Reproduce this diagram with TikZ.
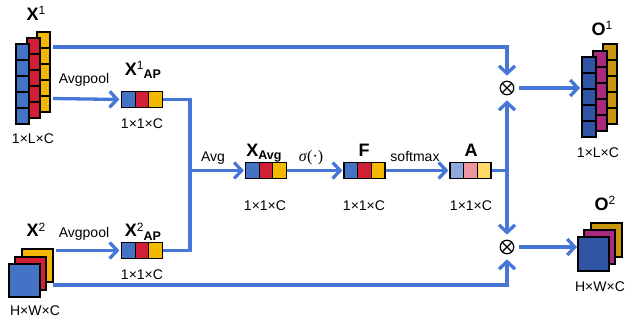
\documentclass[tikz,border=0pt]{standalone}
\usepackage{fontspec}
\setmainfont{Liberation Sans}
\newfontfamily\serifit{Liberation Serif}
\usetikzlibrary{arrows.meta,calc}
\definecolor{arrowc}{HTML}{4677D6}
\definecolor{cb}{HTML}{4472C4}
\definecolor{cr}{HTML}{D11F35}
\definecolor{cy}{HTML}{F5B800}
\definecolor{lb}{HTML}{8EA9DB}
\definecolor{lr}{HTML}{EE96A0}
\definecolor{ly}{HTML}{FFD966}
\definecolor{ob}{HTML}{2F55A4}
\definecolor{om}{HTML}{A82B7E}
\definecolor{oy}{HTML}{C8960C}
\tikzset{
  flow/.style={draw=arrowc, line width=3.3pt, -{Straight Barb[length=7.5pt,width=16pt]}},
  wire/.style={draw=arrowc, line width=3.3pt},
  lbl/.style={font=\fontsize{14}{14}\selectfont, inner sep=0pt, anchor=base},
  ttl/.style={font=\fontsize{18}{18}\selectfont\bfseries, inner sep=0pt, anchor=base},
  cell/.style={draw=black, line width=1.1pt},
  boxouter/.style={draw=black, line width=1.2pt, minimum width=41pt, minimum height=16.5pt, inner sep=0pt},
  otimes/.style={circle, draw=black, line width=1.2pt, minimum size=13.5pt, inner sep=0pt,
    path picture={\draw[line width=1.2pt] (path picture bounding box.north west) -- (path picture bounding box.south east)
      (path picture bounding box.north east) -- (path picture bounding box.south west);}}
}
\newcommand\colstack[5]{% x, ytop, w, cellh, color
  \foreach \k in {0,...,4} {\draw[cell, fill=#5] (#1,{#2+\k*#4}) rectangle ++(#3,#4);}
}
\newcommand\tribox[6]{% name, cx, cy, c1, c2, c3
  \draw[cell, fill=#4] ({#2-20.5},{#3-8.25}) rectangle ++(13.667,16.5);
  \draw[cell, fill=#5] ({#2-6.833},{#3-8.25}) rectangle ++(13.667,16.5);
  \draw[cell, fill=#6] ({#2+6.833},{#3-8.25}) rectangle ++(13.667,16.5);
  \node[boxouter] (#1) at (#2,#3) {};
}
\newcommand\smallsup[1]{\raisebox{5.5pt}{\fontsize{12}{12}\selectfont\mdseries #1}}
\newcommand\smallsub[1]{\raisebox{-3.5pt}{\fontsize{12.5}{12.5}\selectfont\bfseries #1}}
\begin{document}
\begin{tikzpicture}[x=1pt,y=-1pt]
\useasboundingbox (0,0) rectangle (634,324);

% ---- input X1 (1xLxC)
\colstack{37}{32}{13}{16}{cy}
\colstack{27}{38}{13}{16}{cr}
\colstack{16}{44}{13}{16}{cb}
\coordinate (x1a) at (53,47);
\coordinate (x1b) at (53,98.5);
\node[ttl] (tx1) at (36,20) {X\smallsup{1}};
\node[lbl] (dx1) at (33,143) {1×L×C};

% ---- input X2 (HxWxC)
\draw[cell, fill=cy] (22,249) rectangle ++(31,33);
\draw[cell, fill=cr] (15,257) rectangle ++(31,33);
\draw[cell, fill=cb] (9,264) rectangle ++(31,33);
\coordinate (x2a) at (56,250.5);
\coordinate (x2b) at (53,285);
\node[ttl] (tx2) at (36,236.5) {X\smallsup{2}};
\node[lbl] (dx2) at (35,315) {H×W×C};

% ---- pooled vectors
\tribox{x1ap}{142}{99.5}{cb}{cr}{cy}
\tribox{x2ap}{142}{250.5}{cb}{cr}{cy}
\node[ttl] (tx1ap) at (143,75) {X\smallsup{1}\smallsub{AP}};
\node[ttl] (tx2ap) at (143,236.5) {X\smallsup{2}\smallsub{AP}};
\node[lbl] (d1ap) at (142,128) {1×1×C};
\node[lbl] (d2ap) at (142,279) {1×1×C};

\tribox{xavg}{266}{170.5}{cb}{cr}{cy}
\tribox{fbox}{364.5}{170.5}{cb}{cr}{cy}
\tribox{abox}{470.5}{170.5}{lb}{lr}{ly}
\node[ttl] (txavg) at (264,156) {X\smallsub{Avg}};
\node[ttl] (tf) at (364,156) {F};
\node[ttl] (ta) at (471,156) {A};
\node[lbl] (davg) at (265,210) {1×1×C};
\node[lbl] (df) at (364,210) {1×1×C};
\node[lbl] (da) at (471,210) {1×1×C};

% ---- products
\node[otimes] (m1) at (507,88) {};
\node[otimes] (m2) at (507,247) {};

% ---- outputs
\colstack{603}{44}{14}{16}{oy}
\colstack{593}{51}{14}{16}{om}
\colstack{582}{57}{14}{16}{ob}
\coordinate (o1) at (580,88);
\node[ttl] (to1) at (602,35) {O\smallsup{1}};
\node[lbl] (do1) at (598,157) {1×L×C};

\draw[cell, fill=oy] (591,223) rectangle ++(31,34);
\draw[cell, fill=om] (584,230) rectangle ++(31,34);
\draw[cell, fill=ob] (578,237) rectangle ++(31,34);
\coordinate (o2) at (577,247);
\node[ttl] (to2) at (605,210) {O\smallsup{2}};
\node[lbl] (do2) at (600,291) {H×W×C};

% ---- connectors
\coordinate (j) at (190,170.5);
\coordinate (k) at (507,170.5);
\draw[flow, shorten >=5pt] (x1a) -| (m1);
\draw[flow, shorten >=1.5pt] (x1b) -- (x1ap.west);
\draw[flow, shorten >=1.5pt] (x2a) -- (x2ap.west);
\draw[flow, shorten >=5pt] (x2b) -| (m2);
\draw[wire] (x1ap.east) -| (j);
\draw[wire] (x2ap.east) -| (j);
\draw[flow, shorten >=1pt] (j) -- (xavg.west);
\draw[flow, shorten >=1pt] (xavg.east) -- (fbox.west);
\draw[flow, shorten >=1pt] (fbox.east) -- (abox.west);
\draw[wire] (abox.east) -- (k);
\draw[flow, shorten >=5pt] (k) -- (m1);
\draw[flow, shorten >=5pt] (k) -- (m2);
\draw[flow, shorten <=5pt] (m1) -- (o1);
\draw[flow, shorten <=5pt] (m2) -- (o2);

% ---- connector labels
\node[lbl] (lp1) at (84,83) {Avgpool};
\node[lbl] (lp2) at (84,237) {Avgpool};
\node[lbl] (lavg) at (213,161) {Avg};
\node[lbl] (lsig) at (311,161) {{\serifit\fontsize{16}{16}\selectfont\itshape σ\/}{\serifit\fontsize{16}{16}\selectfont(·)}};
\node[lbl] (lsm) at (415,161) {softmax};
\end{tikzpicture}
\end{document}
